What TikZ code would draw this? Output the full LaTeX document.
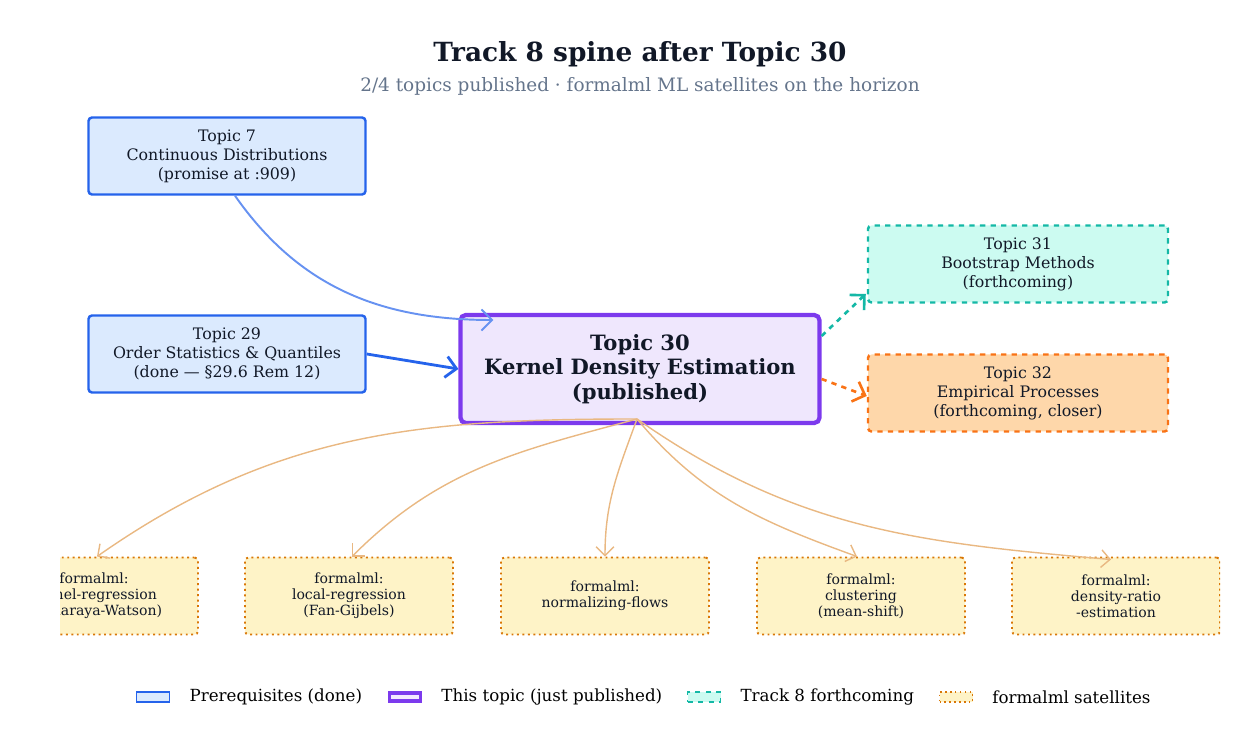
\documentclass[tikz,border=0pt]{standalone}
\usepackage{fontspec}
\setmainfont{DejaVu Serif}
\usetikzlibrary{arrows.meta, positioning}
\definecolor{preblue}{HTML}{2563EB}
\definecolor{prefill}{HTML}{DBEAFE}
\definecolor{topicpurple}{HTML}{7C3AED}
\definecolor{topicfill}{HTML}{F3E8FF}
\definecolor{nextteal}{HTML}{14B8A6}
\definecolor{nextfill}{HTML}{CCFBF1}
\definecolor{nextorange}{HTML}{F97316}
\definecolor{orangefill}{HTML}{FED7AA}
\definecolor{satborder}{HTML}{D97706}
\definecolor{satfill}{HTML}{FEF3C7}
\definecolor{satarrow}{HTML}{E9B882}
\definecolor{titleink}{HTML}{111827}
\definecolor{subink}{HTML}{64748B}
\tikzset{
  box/.style={rounded corners=2pt, align=center, inner sep=0pt, text=titleink,
    font=\fontsize{9}{10.8}\selectfont},
  prebox/.style={box, draw=preblue, fill=prefill, line width=1.4pt,
    minimum width=5.54cm, minimum height=1.54cm},
  nextbox/.style={box, dashed, line width=1.4pt, minimum width=6cm, minimum height=1.54cm},
  satbox/.style={box, draw=satborder, fill=satfill, dotted, line width=1.1pt,
    minimum width=4.16cm, minimum height=1.54cm, font=\fontsize{8}{9.2}\selectfont},
  satlink/.style={satarrow, line width=0.8pt, -{Straight Barb[length=5pt]}}
}
\begin{document}
\begin{tikzpicture}
  \useasboundingbox (0,0) rectangle (24.86,14.76);
  % Title
  \node[text=titleink, font=\fontsize{15}{18}\bfseries\selectfont] (title) at (12.8,13.68) {Track 8 spine after Topic 30};
  \node[text=subink, font=\fontsize{10.5}{12}\selectfont] (subtitle) at (12.8,13.04) {2/4 topics published · formalml ML satellites on the horizon};

  % Prerequisites and this topic
  \node[prebox] (t7) at (4.54,11.64) {Topic 7\\Continuous Distributions\\(promise at :909)};
  \node[prebox] (t29) at (4.54,7.68) {Topic 29\\Order Statistics \& Quantiles\\(done — §29.6 Rem 12)};
  \node[box, draw=topicpurple, fill=topicpurple!12, line width=2.4pt, rounded corners=3pt,
    minimum width=7.18cm, minimum height=2.16cm, font=\fontsize{12}{14}\bfseries\selectfont]
    (t30) at (12.8,7.38) {Topic 30\\Kernel Density Estimation\\(published)};

  % Forthcoming
  \node[nextbox, draw=nextteal, fill=nextfill] (t31) at (20.36,9.48) {Topic 31\\Bootstrap Methods\\(forthcoming)};
  \node[nextbox, draw=nextorange, fill=orangefill] (t32) at (20.36,6.9) {Topic 32\\Empirical Processes\\(forthcoming, closer)};

  % Satellites
  \begin{scope}
    \clip (1.2,0) rectangle (24.4,14.76);
    \node[satbox] (s1) at (1.88,2.84) {formalml:\\kernel-regression\\(Nadaraya-Watson)};
    \node[satbox] (s2) at (6.98,2.84) {formalml:\\local-regression\\(Fan-Gijbels)};
    \node[satbox] (s3) at (12.1,2.84) {formalml:\\normalizing-flows};
    \node[satbox] (s4) at (17.22,2.84) {formalml:\\clustering\\(mean-shift)};
    \node[satbox] (s5) at (22.32,2.84) {formalml:\\density-ratio\\-estimation};
  \end{scope}

  % Connectors
  \draw[preblue!70, line width=1.1pt, -{Straight Barb[length=6pt]}] (t7.south) ++(0.16,0) to[out=-55,in=180] ([xshift=0.7cm,yshift=0.98cm]t30.west);
  \draw[preblue, line width=1.6pt, -{Straight Barb[length=6pt]}] (t29.east) -- (t30.west);
  \draw[nextteal, dashed, line width=1.5pt, -{Straight Barb[length=6pt]}] ([yshift=0.66cm]t30.east) -- ([xshift=-0.02cm,yshift=-0.6cm]t31.west);
  \draw[nextorange, dashed, line width=1.5pt, -{Straight Barb[length=6pt]}] ([yshift=-0.2cm]t30.east) -- ([yshift=-0.06cm]t32.west);

  \coordinate (src) at (12.74,6.38);
  \draw[satlink] (src) to[out=180,in=35] ([xshift=0.06cm]s1.north);
  \draw[satlink] (src) to[out=195,in=45] ([xshift=0.06cm]s2.north);
  \draw[satlink] (src) to[out=250,in=90] (s3.north);
  \draw[satlink] (src) to[out=-50,in=160] ([xshift=-0.08cm]s4.north);
  \draw[satlink] (src) to[out=-35,in=175] ([xshift=-0.1cm,yshift=-0.06cm]s5.north);

  % Legend
  \node[draw=preblue, fill=prefill, line width=1pt, minimum width=0.66cm, minimum height=0.2cm, inner sep=0pt] (l1) at (3.06,0.82) {};
  \node[right=0.26cm of l1, font=\fontsize{9.5}{11}\selectfont] {Prerequisites (done)};
  \node[draw=topicpurple, fill=topicfill, line width=2pt, minimum width=0.62cm, minimum height=0.16cm, inner sep=0pt] (l2) at (8.1,0.82) {};
  \node[right=0.26cm of l2, font=\fontsize{9.5}{11}\selectfont] {This topic (just published)};
  \node[draw=nextteal, fill=nextfill, dashed, line width=1pt, minimum width=0.66cm, minimum height=0.2cm, inner sep=0pt] (l3) at (14.08,0.82) {};
  \node[right=0.26cm of l3, font=\fontsize{9.5}{11}\selectfont] {Track 8 forthcoming};
  \node[draw=satborder, fill=satfill, dotted, line width=0.8pt, minimum width=0.66cm, minimum height=0.2cm, inner sep=0pt] (l4) at (19.12,0.82) {};
  \node[right=0.26cm of l4, font=\fontsize{9.5}{11}\selectfont] {formalml satellites};
\end{tikzpicture}
\end{document}
